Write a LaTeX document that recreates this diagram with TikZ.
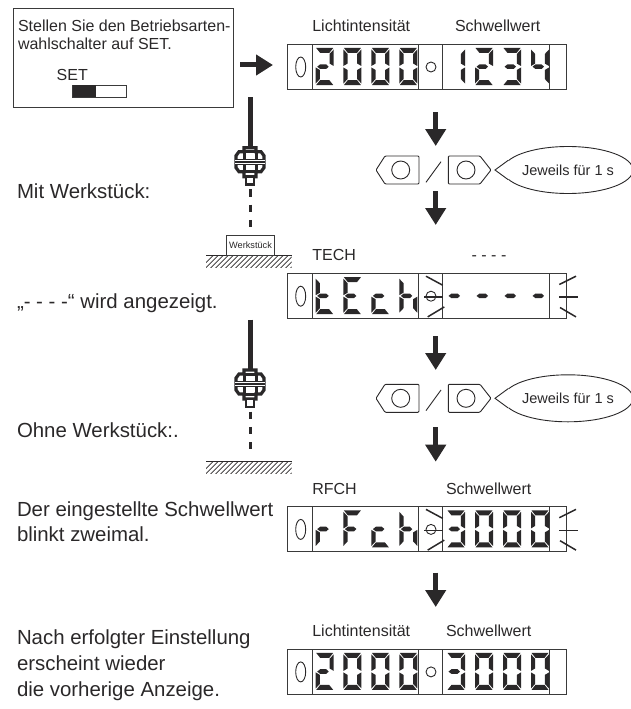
\documentclass[tikz,border=0pt]{standalone}
\usepackage{fontspec}
\setmainfont{Liberation Sans}
\usetikzlibrary{arrows.meta,shapes.geometric}
\definecolor{ink}{HTML}{2A2829}
\definecolor{fr}{HTML}{3A3A3A}
\newcommand{\segA}{\fill[ink] (0.5,0)--(17.5,0)--(13.5,5)--(4.5,5)--cycle;}
\newcommand{\segD}{\fill[ink] (0.5,37)--(17.5,37)--(13.5,32)--(4.5,32)--cycle;}
\newcommand{\segF}{\fill[ink] (0,1.5)--(4.2,6)--(4.2,15.5)--(0,18)--cycle;}
\newcommand{\segE}{\fill[ink] (0,19.5)--(4.2,22)--(4.2,31)--(0,35.5)--cycle;}
\newcommand{\segB}{\fill[ink] (18,1.5)--(13.8,6)--(13.8,15.5)--(18,18)--cycle;}
\newcommand{\segC}{\fill[ink] (18,19.5)--(13.8,22)--(13.8,31)--(18,35.5)--cycle;}
\newcommand{\segG}{\fill[ink] (1.5,18.7)--(4.5,16.3)--(10.5,16.3)--(13,18.7)--(10.5,21)--(4.5,21)--cycle;}
\newcommand{\dgt}[3]{\begin{scope}[shift={(#1,#2+3.7)}]\foreach \s in {#3}{\csname seg\s\endcsname}\end{scope}}
\newcommand{\displaybox}[1]{%
  \draw[framed] (287.7,#1) rectangle (566,#1+45);
  \foreach \px in {312.7,418.7,442.7,549.3}{\draw[framed] (\px,#1)--(\px,#1+45);}
  \draw[thinl] (300.7,#1+22.7) ellipse [x radius=5,y radius=10];
  \draw[thinl] (431,#1+22.7) circle [radius=5];
}
\newcommand{\blink}[1]{%
  \draw[blinkl] (426,#1+2.7)--(442.7,#1+11.7);
  \draw[blinkl] (424.3,#1+23.7)--(443.3,#1+23.7);
  \draw[blinkl] (427.7,#1+43.4)--(444.3,#1+33.4);
  \draw[blinkl] (559.3,#1+11)--(576,#1+2.7);
  \draw[blinkl] (559.3,#1+23.7)--(578,#1+23.7);
  \draw[blinkl] (560,#1+34)--(576,#1+43.4);
}
\newcommand{\sensor}[2]{% cable top, flange y
  \draw[line width=5,ink] (250,#1)--(250,#2-14);
  \begin{scope}[shift={(250,#2)}]
    \draw[line width=3.2,ink,fill=white] (-6,-14)--(6,-14)--(6,-10)--(11,-10)--(14,-6)--(14,6)--(11,10)--(6,10)--(6,15)--(-6,15)--(-6,10)--(-11,10)--(-14,6)--(-14,-6)--(-11,-10)--(-6,-10)--cycle;
    \draw[line width=3,ink] (-6,-10)--(6,-10) (-6,-10)--(-6,-3) (6,-10)--(6,-3) (-6,3)--(-6,10) (6,3)--(6,10) (-6,10)--(6,10);
    \draw[line width=2.8,ink,fill=white] (-4,15)--(4,15)--(4,23)--(-4,23)--cycle;
    \fill[ink] (-15,-3) rectangle (15,3);
    \draw[line width=.9,white] (-15,-1.3)--(15,-1.3) (-15,1.3)--(15,1.3);
  \end{scope}
  \draw[line width=3,ink,dash pattern=on 7.5 off 7.8] (250,#2+27.6)--(250,#2+65);
}
\newcommand{\ground}[1]{%
  \begin{scope}
    \clip (206,#1) rectangle (291.7,#1+12.2);
    \foreach \hx in {200,205,...,310}{\draw[line width=.7,ink] (\hx,#1+13)--(\hx+13,#1);}
  \end{scope}
  \draw[line width=1,ink] (206,#1)--(291.7,#1);
}
\newcommand{\buttons}[1]{%
  \draw[thinl,rounded corners=1] (376,#1)--(385,#1-14)--(419,#1-14)--(419,#1+14)--(385,#1+14)--cycle;
  \draw[thinl] (400.7,#1) circle [radius=9];
  \draw[thinl] (426,#1+12.3)--(441,#1-8.3);
  \draw[thinl,rounded corners=1] (448.3,#1-14)--(480,#1-14)--(491,#1)--(480,#1+14)--(448.3,#1+14)--cycle;
  \draw[thinl] (466,#1) circle [radius=9];
}
\tikzset{
  framed/.style={line width=1,fr},
  thinl/.style={line width=.9,ink},
  blinkl/.style={line width=1.5,ink},
  body/.style={font=\fontsize{20.4}{25}\selectfont,text=ink,anchor=base west,inner sep=0,outer sep=0},
  lab/.style={font=\fontsize{16}{18}\selectfont,text=ink,anchor=base west,inner sep=0,outer sep=0},
  bigarrow/.style={line width=5,ink,-{Triangle[length=17,width=20]}},
  bubble/.style={draw=ink,line width=.9,fill=white,shape=ellipse,inner sep=0,minimum width=104,minimum height=47,font=\fontsize{14.5}{16}\selectfont,text=ink},
}
\begin{document}
\begin{tikzpicture}[x=1pt,y=-1pt]
\useasboundingbox (0,0) rectangle (631,709);
% instruction box
\draw[framed] (13.3,9) rectangle (233,107);
\node[lab] (t1) at (18,31.7) {Stellen Sie den Betriebsarten-};
\node[lab] (t2) at (18,49.3) {wahlschalter auf SET.};
\node[lab] (t3) at (56.7,80) {SET};
\draw[framed] (72.7,85.3) rectangle (126.7,97);
\fill[ink] (72.7,85.3) rectangle (96,97);
% arrows
\coordinate (r0) at (240,65); \coordinate (r1) at (273,65);
\draw[bigarrow] (r0)--(r1);
\coordinate (a0) at (435.7,112); \coordinate (a1) at (435.7,146);
\coordinate (b0) at (435.7,191); \coordinate (b1) at (435.7,225);
\coordinate (c0) at (435.7,336); \coordinate (c1) at (435.7,370);
\coordinate (d0) at (435.7,427.3); \coordinate (d1) at (435.7,461.7);
\coordinate (e0) at (435.7,572.7); \coordinate (e1) at (435.7,607);
\draw[bigarrow] (a0)--(a1);
\draw[bigarrow] (b0)--(b1);
\draw[bigarrow] (c0)--(c1);
\draw[bigarrow] (d0)--(d1);
\draw[bigarrow] (e0)--(e1);
% displays
\node[lab] (l1) at (312.3,31.7) {Lichtintensität};
\node[lab] (s1) at (455,31.7) {Schwellwert};
\displaybox{44.3}
\dgt{315.7}{44.3}{A,B,G,E,D}\dgt{343.4}{44.3}{A,B,C,D,E,F}\dgt{371.4}{44.3}{A,B,C,D,E,F}\dgt{399.3}{44.3}{A,B,C,D,E,F}
\dgt{447}{44.3}{B,C}\dgt{475}{44.3}{A,B,G,E,D}\dgt{503}{44.3}{A,B,G,C,D}\dgt{531}{44.3}{F,B,G,C}
\node[lab] (l2) at (312.3,260) {TECH};
\node[lab] (s2) at (471.7,260) {- - - -};
\displaybox{273.5}
\dgt{315.7}{273.5}{F,E,G,D}\dgt{343.4}{273.5}{A,F,G,E,D}\dgt{371.4}{273.5}{G,E,D}\dgt{399.3}{273.5}{F,E,G,C}
\dgt{447}{273.5}{G}\dgt{475}{273.5}{G}\dgt{503}{273.5}{G}\dgt{531}{273.5}{G}
\blink{273.5}
\node[lab] (l3) at (312.3,494) {RFCH};
\node[lab] (s3) at (446,494) {Schwellwert};
\displaybox{506.7}
\dgt{315.7}{506.7}{E,G}\dgt{343.4}{506.7}{A,F,G,E}\dgt{371.4}{506.7}{G,E,D}\dgt{399.3}{506.7}{F,E,G,C}
\dgt{447}{506.7}{A,B,G,C,D}\dgt{475}{506.7}{A,B,C,D,E,F}\dgt{503}{506.7}{A,B,C,D,E,F}\dgt{531}{506.7}{A,B,C,D,E,F}
\blink{506.7}
\node[lab] (l4) at (312.3,636.7) {Lichtintensität};
\node[lab] (s4) at (446,636.7) {Schwellwert};
\displaybox{649.2}
\dgt{315.7}{649.2}{A,B,G,E,D}\dgt{343.4}{649.2}{A,B,C,D,E,F}\dgt{371.4}{649.2}{A,B,C,D,E,F}\dgt{399.3}{649.2}{A,B,C,D,E,F}
\dgt{447}{649.2}{A,B,G,C,D}\dgt{475}{649.2}{A,B,C,D,E,F}\dgt{503}{649.2}{A,B,C,D,E,F}\dgt{531}{649.2}{A,B,C,D,E,F}
% buttons and bubbles
\buttons{170}
\buttons{398.3}
\node[bubble] (bub1) at (568,170) {Jeweils für 1 s};
\coordinate (tip1) at (495,170);
\fill[white] (tip1)--(bub1.171)--(524,170)--(bub1.189)--cycle;
\draw[thinl] (bub1.171)--(tip1)--(bub1.189);
\node[bubble] (bub2) at (568,398.3) {Jeweils für 1 s};
\coordinate (tip2) at (495,398.3);
\fill[white] (tip2)--(bub2.171)--(524,398.3)--(bub2.189)--cycle;
\draw[thinl] (bub2.171)--(tip2)--(bub2.189);
% sensors
\sensor{97.3}{161.7}
\sensor{319.6}{384}
\ground{255.5}
\ground{461.7}
\node[draw=fr,line width=1,fill=white,minimum width=47.6,minimum height=19.5,inner sep=0,font=\fontsize{9.2}{10}\selectfont,text=ink] (wk) at (250.5,245.5) {Werkstück};
% left texts
\node[body] (m1) at (17,198) {Mit Werkstück:};
\node[body] (m2) at (17,308) {„- - - -“ wird angezeigt.};
\node[body] (m3) at (17,437) {Ohne Werkstück:.};
\node[body] (m4) at (17,516) {Der eingestellte Schwellwert};
\node[body] (m5) at (17,541) {blinkt zweimal.};
\node[body] (m6) at (17,644) {Nach erfolgter Einstellung};
\node[body] (m7) at (17,670) {erscheint wieder};
\node[body] (m8) at (17,696) {die vorherige Anzeige.};
\end{tikzpicture}
\end{document}
